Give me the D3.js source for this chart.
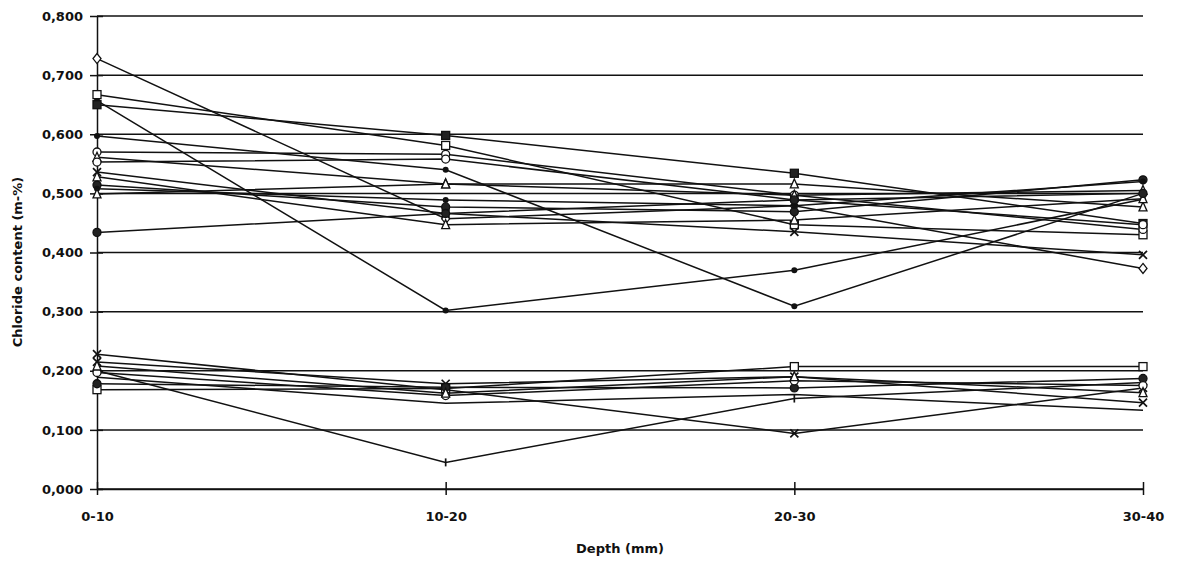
<!DOCTYPE html>
<html>
<head>
<meta charset="utf-8">
<script src="https://cdn.jsdelivr.net/npm/d3@7"></script>
<style>
  body { margin: 0; background: #fff; }
  svg text { font-family: "DejaVu Sans", "Open Sans", sans-serif; fill: #111; }
</style>
</head>
<body>
<svg id="chart" width="1179" height="565"></svg>
<script>
const depths = ["0-10", "10-20", "20-30", "30-40"];
const yTicks = [0, 0.1, 0.2, 0.3, 0.4, 0.5, 0.6, 0.7, 0.8];

// upper group of samples (values per depth)
const upperSeries = [
  [0.728, 0.457, 0.479, 0.373],
  [0.657, 0.302, 0.370, 0.490],
  [0.667, 0.581, 0.447, 0.430],
  [0.650, 0.598, 0.534, 0.449],
  [0.597, 0.540, 0.309, 0.500],
  [0.570, 0.566, 0.497, 0.439],
  [0.561, 0.516, 0.516, 0.477],
  [0.553, 0.558, 0.489, 0.447],
  [0.536, 0.466, 0.435, 0.396],
  [0.528, 0.447, 0.455, 0.491],
  [0.514, 0.477, 0.469, 0.523],
  [0.508, 0.489, 0.479, 0.520],
  [0.499, 0.516, 0.497, 0.505],
  [0.434, 0.466, 0.489, 0.500]
];
const upperMarkers = ["diamondOpen", "dot", "squareOpen", "squareFilled", "dot",
  "circleOpen", "triangleOpen", "circleOpen", "x", "triangleOpen",
  "circleFilled", "dot", "triangleOpen", "circleFilled"];

// lower group of samples
const lowerSeries = [
  [0.228, 0.168, 0.094, 0.171],
  [0.200, 0.045, 0.153, 0.180],
  [0.168, 0.170, 0.207, 0.207],
  [0.215, 0.178, 0.190, 0.146],
  [0.178, 0.172, 0.171, 0.187],
  [0.197, 0.158, 0.183, 0.175],
  [0.189, 0.145, 0.160, 0.133],
  [0.208, 0.162, 0.190, 0.163]
];
const lowerMarkers = ["x", "dash", "squareOpen", "x", "circleFilled",
  "circleOpen", "none", "triangleOpen"];

const svg = d3.select("#chart");
const plotLeft = 97, plotRight = 1143, plotTop = 16, plotBottom = 489;

const x = d3.scalePoint().domain(depths).range([plotLeft, plotRight]);
const y = d3.scaleLinear().domain([0, 0.8]).range([plotBottom, plotTop]);

const fmt = v => d3.format(".3f")(v).replace(".", ",");

// gridlines
svg.append("g")
  .selectAll("line")
  .data(yTicks)
  .join("line")
  .attr("x1", plotLeft).attr("x2", plotRight)
  .attr("y1", d => y(d)).attr("y2", d => y(d))
  .attr("stroke", "#111")
  .attr("stroke-width", 1.5);

// y axis
const yAxis = svg.append("g")
  .attr("transform", `translate(${plotLeft},0)`)
  .call(d3.axisLeft(y).tickValues(yTicks).tickFormat(fmt).tickSizeInner(7).tickSizeOuter(0).tickPadding(7));
yAxis.select(".domain").attr("stroke", "#111").attr("stroke-width", 1.5);
yAxis.selectAll(".tick line").attr("x2", 6).attr("x1", -7).attr("stroke", "#111").attr("stroke-width", 1.5);
yAxis.selectAll(".tick text").attr("x", -14).style("font-size", "13px").style("font-weight", 700);

// x axis
const xAxis = svg.append("g")
  .attr("transform", `translate(0,${plotBottom})`)
  .call(d3.axisBottom(x).tickSizeOuter(0).tickPadding(17));
xAxis.select(".domain").attr("stroke", "#111").attr("stroke-width", 1.5);
xAxis.selectAll(".tick line").attr("y1", -7).attr("y2", 6).attr("stroke", "#111").attr("stroke-width", 1.5);
xAxis.selectAll(".tick text").style("font-size", "13px").style("font-weight", 700);

svg.append("text")
  .attr("x", 620).attr("y", 553)
  .attr("text-anchor", "middle")
  .style("font-size", "13px").style("font-weight", 700)
  .text("Depth (mm)");

svg.append("text")
  .attr("transform", "translate(22,262) rotate(-90)")
  .attr("text-anchor", "middle")
  .style("font-size", "13px").style("font-weight", 700)
  .text("Chloride content (m-%)");

const line = d3.line()
  .x((d, i) => x(depths[i]))
  .y(d => y(d));

function drawMarker(g, type, cx, cy) {
  const s = 4;
  if (type === "none") return;
  if (type === "squareOpen" || type === "squareFilled") {
    g.append("rect").attr("x", cx - s).attr("y", cy - s).attr("width", 2 * s).attr("height", 2 * s)
      .attr("fill", type === "squareFilled" ? "#222" : "#fff").attr("stroke", "#111").attr("stroke-width", 1.3);
  } else if (type === "circleOpen" || type === "circleFilled") {
    g.append("circle").attr("cx", cx).attr("cy", cy).attr("r", s)
      .attr("fill", type === "circleFilled" ? "#222" : "#fff").attr("stroke", "#111").attr("stroke-width", 1.3);
  } else if (type === "dot") {
    g.append("circle").attr("cx", cx).attr("cy", cy).attr("r", 3).attr("fill", "#111");
  } else if (type === "diamondOpen") {
    g.append("path").attr("d", `M${cx},${cy - s - 1}L${cx + s},${cy}L${cx},${cy + s + 1}L${cx - s},${cy}Z`)
      .attr("fill", "#fff").attr("stroke", "#111").attr("stroke-width", 1.3);
  } else if (type === "triangleOpen") {
    g.append("path").attr("d", `M${cx},${cy - s - 1}L${cx + s},${cy + s}L${cx - s},${cy + s}Z`)
      .attr("fill", "#fff").attr("stroke", "#111").attr("stroke-width", 1.3);
  } else if (type === "x") {
    g.append("path").attr("d", `M${cx - s},${cy - s}L${cx + s},${cy + s}M${cx + s},${cy - s}L${cx - s},${cy + s}`)
      .attr("stroke", "#111").attr("stroke-width", 1.7);
  } else if (type === "dash") {
    g.append("path").attr("d", `M${cx},${cy - s}L${cx},${cy + s}`)
      .attr("stroke", "#111").attr("stroke-width", 1.7);
  }
}

function drawGroup(seriesList, markers) {
  seriesList.forEach((vals, k) => {
    const g = svg.append("g");
    g.append("path")
      .attr("d", line(vals))
      .attr("fill", "none")
      .attr("stroke", "#111")
      .attr("stroke-width", 1.5);
    vals.forEach((v, i) => drawMarker(g, markers[k], x(depths[i]), y(v)));
  });
}

drawGroup(upperSeries, upperMarkers);
drawGroup(lowerSeries, lowerMarkers);
</script>
</body>
</html>
